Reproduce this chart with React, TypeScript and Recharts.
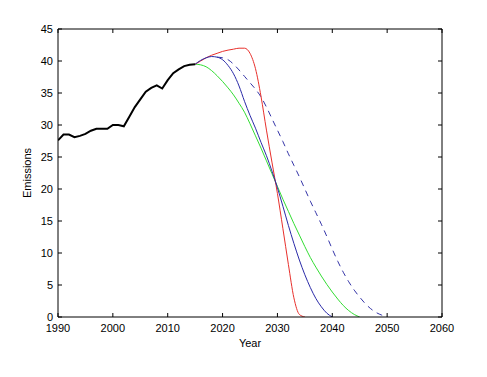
import React from "react";
import { LineChart, Line, XAxis, YAxis } from "recharts";

const xTicks = [1990, 2000, 2010, 2020, 2030, 2040, 2050, 2060];
const yTicks = [0, 5, 10, 15, 20, 25, 30, 35, 40, 45];

// historical emissions, one value per year from 1990
const histStart = 1990;
const historical = [
  27.6, 28.5, 28.5, 28.1, 28.3, 28.6, 29.1, 29.4, 29.4, 29.4, 30.0, 30.0, 29.8,
  31.3, 32.8, 34.0, 35.2, 35.8, 36.2, 35.7, 37.0, 38.1, 38.7, 39.2, 39.4, 39.5,
];

// scenario paths, one value per year from their start year
const scenarioStart = 2015;
const redPath = [
  39.5, 40.0, 40.5, 40.9, 41.2, 41.5, 41.7, 41.85, 42.0, 42.0, 41.2, 38.8, 34.5,
  29.2, 24.2, 19.3, 13.8, 8.2, 3.0, 0.4, 0,
];
const bluePath = [
  39.5, 40.1, 40.5, 40.7, 40.6, 40.2, 39.3, 38.0, 36.1, 33.7, 31.5, 29.5, 27.3,
  25.2, 22.8, 20.2, 17.3, 14.3, 11.5, 8.9, 6.6, 4.6, 2.9, 1.6, 0.6, 0,
];
const greenPath = [
  39.5, 39.4, 39.1, 38.5, 37.7, 36.8, 35.8, 34.7, 33.4, 32.0, 30.2, 28.3, 26.4,
  24.4, 22.4, 20.4, 18.4, 16.5, 14.6, 12.8, 11.0, 9.3, 7.8, 6.4, 5.1, 3.9, 2.8,
  1.8, 1.0, 0.4, 0,
];
const dashedStart = 2019;
const dashedPath = [
  40.6, 40.5, 40.2, 39.5, 38.6, 37.6, 36.6, 35.6, 34.4, 32.8, 31.0, 29.2, 27.4,
  25.5, 23.7, 21.9, 20.0, 18.1, 16.3, 14.5, 12.6, 10.6, 8.7, 7.0, 5.5, 4.2, 3.1,
  2.1, 1.3, 0.7, 0.3, 0,
];

const toRows = (start: number, values: number[]) =>
  values.map((v, i) => ({ year: start + i, value: v }));

const font = "'Liberation Sans', Arial, sans-serif";

const BottomTick = ({ x, y, payload }: any) => (
  <g>
    <line x1={x} x2={x} y1={y} y2={y - 4} stroke="#000" />
    <text x={x} y={y + 15} textAnchor="middle" fontSize={11} fontFamily={font} fill="#000">
      {payload.value}
    </text>
  </g>
);

const TopTick = ({ x, y }: any) => (
  <line x1={x} x2={x} y1={y} y2={y + 4} stroke="#000" />
);

const LeftTick = ({ x, y, payload }: any) => (
  <g>
    <line x1={x} x2={x + 4} y1={y} y2={y} stroke="#000" />
    <text x={x - 5} y={y + 4} textAnchor="end" fontSize={11} fontFamily={font} fill="#000">
      {payload.value}
    </text>
  </g>
);

const RightTick = ({ x, y }: any) => (
  <line x1={x} x2={x - 4} y1={y} y2={y} stroke="#000" />
);

export default function App() {
  return (
    <div style={{ background: "#fff", width: 479, height: 369 }}>
      <LineChart width={479} height={369} margin={{ top: 20, right: 44, left: 0, bottom: 0 }}>
        <XAxis
          dataKey="year"
          type="number"
          domain={[1990, 2060]}
          ticks={xTicks}
          allowDataOverflow
          height={60}
          tickSize={0}
          tickMargin={0}
          tickLine={false}
          tick={<BottomTick />}
          axisLine={{ stroke: "#000" }}
          label={{
            value: "Year",
            position: "insideBottom",
            offset: 30,
            style: { fontSize: 11, fontFamily: font, fill: "#000" },
          }}
        />
        <XAxis
          xAxisId="top"
          dataKey="year"
          orientation="top"
          type="number"
          domain={[1990, 2060]}
          ticks={xTicks}
          allowDataOverflow
          height={1}
          tickSize={0}
          tickMargin={0}
          tickLine={false}
          tick={<TopTick />}
          axisLine={{ stroke: "#000" }}
        />
        <YAxis
          type="number"
          domain={[0, 45]}
          ticks={yTicks}
          allowDataOverflow
          width={50}
          tickSize={0}
          tickMargin={0}
          tickLine={false}
          tick={<LeftTick />}
          axisLine={{ stroke: "#000" }}
          label={{
            value: "Emissions",
            angle: -90,
            position: "insideLeft",
            offset: 19,
            style: { textAnchor: "middle", fontSize: 11, fontFamily: font, fill: "#000" },
          }}
        />
        <YAxis
          yAxisId="right"
          orientation="right"
          type="number"
          domain={[0, 45]}
          ticks={yTicks}
          allowDataOverflow
          width={1}
          tickSize={0}
          tickMargin={0}
          tickLine={false}
          tick={<RightTick />}
          axisLine={{ stroke: "#000" }}
        />
        {/* dashed path is bound to the top/right axes so the box gets drawn; same domains */}
        <Line
          data={toRows(dashedStart, dashedPath)}
          xAxisId="top"
          yAxisId="right"
          dataKey="value"
          type="monotone"
          stroke="#3535a8"
          strokeWidth={1}
          strokeDasharray="6 5"
          dot={false}
          activeDot={false}
          isAnimationActive={false}
        />
        <Line
          data={toRows(scenarioStart, greenPath)}
          dataKey="value"
          type="monotone"
          stroke="#33dd33"
          strokeWidth={1}
          dot={false}
          activeDot={false}
          isAnimationActive={false}
        />
        <Line
          data={toRows(scenarioStart, redPath)}
          dataKey="value"
          type="monotone"
          stroke="#e8302c"
          strokeWidth={1}
          dot={false}
          activeDot={false}
          isAnimationActive={false}
        />
        <Line
          data={toRows(scenarioStart, bluePath)}
          dataKey="value"
          type="monotone"
          stroke="#2a2aa8"
          strokeWidth={1}
          dot={false}
          activeDot={false}
          isAnimationActive={false}
        />
        <Line
          data={toRows(histStart, historical)}
          dataKey="value"
          type="linear"
          stroke="#000"
          strokeWidth={2}
          dot={false}
          activeDot={false}
          isAnimationActive={false}
        />
      </LineChart>
    </div>
  );
}
